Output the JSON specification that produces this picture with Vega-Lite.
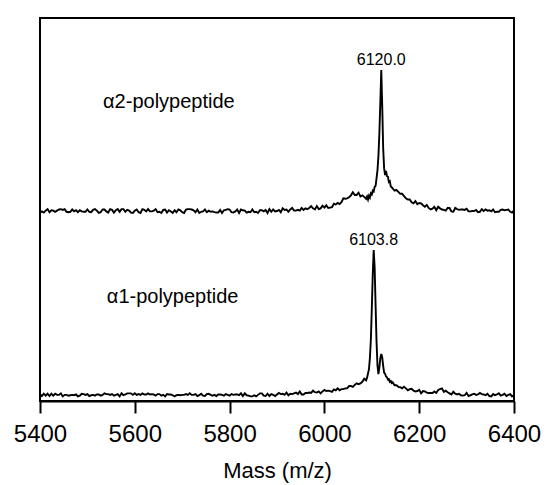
{
  "$schema": "https://vega.github.io/schema/vega-lite/v6.json",
  "width": 474,
  "height": 383,
  "autosize": "none",
  "padding": {"left": 40, "top": 18, "right": 32, "bottom": 84},
  "config": {
    "view": {"stroke": "black", "strokeWidth": 2},
    "font": "Liberation Sans"
  },
  "datasets": {
    "spec": [
      {"m":5400,"a2":49.2,"a1":1.8},{"m":5404,"a2":49.5,"a1":1.3},{"m":5408,"a2":49.2,"a1":1.9},{"m":5412,"a2":49.7,"a1":1.4},
      {"m":5416,"a2":50.1,"a1":1.9},{"m":5420,"a2":49.3,"a1":1.3},{"m":5424,"a2":49.8,"a1":1.9},{"m":5428,"a2":49.7,"a1":1.4},
      {"m":5432,"a2":49.4,"a1":1.9},{"m":5436,"a2":49.7,"a1":1.6},{"m":5440,"a2":50.0,"a1":1.6},{"m":5444,"a2":50.1,"a1":2.0},
      {"m":5448,"a2":49.9,"a1":1.2},{"m":5452,"a2":50.1,"a1":1.6},{"m":5456,"a2":49.4,"a1":1.6},{"m":5460,"a2":49.3,"a1":1.4},
      {"m":5464,"a2":49.4,"a1":1.5},{"m":5468,"a2":50.0,"a1":1.6},{"m":5472,"a2":49.5,"a1":1.5},{"m":5476,"a2":49.8,"a1":1.7},
      {"m":5480,"a2":49.3,"a1":1.2},{"m":5484,"a2":49.8,"a1":1.4},{"m":5488,"a2":49.5,"a1":1.9},{"m":5492,"a2":49.4,"a1":1.8},
      {"m":5496,"a2":49.4,"a1":1.6},{"m":5500,"a2":50.0,"a1":1.8},{"m":5504,"a2":49.4,"a1":1.3},{"m":5508,"a2":49.3,"a1":1.5},
      {"m":5512,"a2":49.9,"a1":1.6},{"m":5516,"a2":50.1,"a1":1.4},{"m":5520,"a2":49.7,"a1":1.7},{"m":5524,"a2":49.1,"a1":1.7},
      {"m":5528,"a2":49.3,"a1":1.4},{"m":5532,"a2":50.0,"a1":1.6},{"m":5536,"a2":50.0,"a1":2.0},{"m":5540,"a2":49.5,"a1":1.8},
      {"m":5544,"a2":49.2,"a1":1.8},{"m":5548,"a2":50.1,"a1":1.6},{"m":5552,"a2":49.9,"a1":1.8},{"m":5556,"a2":49.2,"a1":1.4},
      {"m":5560,"a2":49.8,"a1":1.6},{"m":5564,"a2":50.1,"a1":1.8},{"m":5568,"a2":49.4,"a1":1.2},{"m":5572,"a2":50.1,"a1":2.0},
      {"m":5576,"a2":50.1,"a1":1.5},{"m":5580,"a2":49.4,"a1":1.7},{"m":5584,"a2":49.9,"a1":2.0},{"m":5588,"a2":49.7,"a1":2.0},
      {"m":5592,"a2":49.2,"a1":2.0},{"m":5596,"a2":49.1,"a1":1.6},{"m":5600,"a2":49.7,"a1":2.0},{"m":5604,"a2":50.0,"a1":1.6},
      {"m":5608,"a2":49.3,"a1":1.8},{"m":5612,"a2":49.1,"a1":1.6},{"m":5616,"a2":50.1,"a1":2.0},{"m":5620,"a2":49.9,"a1":1.7},
      {"m":5624,"a2":49.5,"a1":1.7},{"m":5628,"a2":50.1,"a1":2.0},{"m":5632,"a2":49.5,"a1":1.7},{"m":5636,"a2":49.5,"a1":1.8},
      {"m":5640,"a2":49.7,"a1":1.7},{"m":5644,"a2":50.1,"a1":1.4},{"m":5648,"a2":49.3,"a1":1.8},{"m":5652,"a2":49.4,"a1":1.8},
      {"m":5656,"a2":49.1,"a1":1.4},{"m":5660,"a2":49.9,"a1":1.6},{"m":5664,"a2":50.0,"a1":1.2},{"m":5668,"a2":49.2,"a1":1.8},
      {"m":5672,"a2":49.8,"a1":1.7},{"m":5676,"a2":49.5,"a1":1.7},{"m":5680,"a2":49.1,"a1":1.5},{"m":5684,"a2":49.8,"a1":1.2},
      {"m":5688,"a2":49.3,"a1":1.5},{"m":5692,"a2":50.0,"a1":1.6},{"m":5696,"a2":49.8,"a1":1.5},{"m":5700,"a2":49.3,"a1":1.6},
      {"m":5704,"a2":49.1,"a1":1.6},{"m":5708,"a2":50.0,"a1":1.8},{"m":5712,"a2":50.1,"a1":1.6},{"m":5716,"a2":50.1,"a1":2.0},
      {"m":5720,"a2":50.0,"a1":1.6},{"m":5724,"a2":49.8,"a1":1.6},{"m":5728,"a2":49.3,"a1":1.8},{"m":5732,"a2":50.0,"a1":1.3},
      {"m":5736,"a2":49.1,"a1":1.5},{"m":5740,"a2":49.4,"a1":1.9},{"m":5744,"a2":49.5,"a1":1.4},{"m":5748,"a2":50.0,"a1":1.3},
      {"m":5752,"a2":49.3,"a1":1.8},{"m":5756,"a2":49.7,"a1":1.9},{"m":5760,"a2":49.4,"a1":1.6},{"m":5764,"a2":49.5,"a1":1.4},
      {"m":5768,"a2":49.3,"a1":1.6},{"m":5772,"a2":49.2,"a1":1.3},{"m":5776,"a2":49.2,"a1":1.7},{"m":5780,"a2":49.9,"a1":1.7},
      {"m":5784,"a2":49.1,"a1":1.6},{"m":5788,"a2":49.8,"a1":1.4},{"m":5792,"a2":49.9,"a1":1.8},{"m":5796,"a2":50.1,"a1":1.6},
      {"m":5800,"a2":50.0,"a1":1.4},{"m":5804,"a2":49.3,"a1":1.8},{"m":5808,"a2":49.2,"a1":1.6},{"m":5812,"a2":49.5,"a1":1.7},
      {"m":5816,"a2":50.0,"a1":1.7},{"m":5820,"a2":49.1,"a1":1.5},{"m":5824,"a2":50.0,"a1":2.0},{"m":5828,"a2":49.8,"a1":1.3},
      {"m":5832,"a2":49.7,"a1":2.0},{"m":5836,"a2":49.2,"a1":1.5},{"m":5840,"a2":49.4,"a1":1.4},{"m":5844,"a2":49.3,"a1":1.2},
      {"m":5848,"a2":50.0,"a1":1.2},{"m":5852,"a2":49.3,"a1":1.5},{"m":5856,"a2":49.4,"a1":1.2},{"m":5860,"a2":49.1,"a1":1.6},
      {"m":5864,"a2":49.8,"a1":2.0},{"m":5868,"a2":49.8,"a1":2.0},{"m":5872,"a2":49.5,"a1":1.4},{"m":5876,"a2":49.9,"a1":1.3},
      {"m":5880,"a2":49.1,"a1":1.9},{"m":5884,"a2":50.1,"a1":1.3},{"m":5888,"a2":49.4,"a1":1.8},{"m":5892,"a2":50.0,"a1":1.6},
      {"m":5896,"a2":49.5,"a1":1.3},
      {"m":5900,"a2":49.6,"a1":1.7},{"m":5904,"a2":49.9,"a1":2.1},{"m":5908,"a2":49.3,"a1":1.8},{"m":5912,"a2":50.3,"a1":1.9},
      {"m":5916,"a2":49.9,"a1":1.6},{"m":5920,"a2":50.0,"a1":2.2},{"m":5924,"a2":49.4,"a1":1.5},{"m":5928,"a2":50.0,"a1":1.9},
      {"m":5932,"a2":50.4,"a1":1.8},{"m":5936,"a2":49.7,"a1":2.0},{"m":5940,"a2":49.7,"a1":2.2},{"m":5944,"a2":49.9,"a1":1.8},
      {"m":5948,"a2":49.7,"a1":2.5},{"m":5952,"a2":50.4,"a1":1.7},{"m":5956,"a2":49.9,"a1":1.7},{"m":5960,"a2":50.3,"a1":2.1},
      {"m":5964,"a2":50.1,"a1":2.1},{"m":5968,"a2":50.4,"a1":2.2},{"m":5972,"a2":50.9,"a1":2.1},{"m":5976,"a2":50.3,"a1":2.7},
      {"m":5980,"a2":50.0,"a1":2.3},{"m":5984,"a2":50.9,"a1":2.2},{"m":5988,"a2":50.1,"a1":2.5},{"m":5992,"a2":50.3,"a1":2.0},
      {"m":5996,"a2":51.0,"a1":2.5},{"m":6000,"a2":50.5,"a1":2.9},{"m":6004,"a2":51.1,"a1":2.6},{"m":6008,"a2":50.4,"a1":2.7},
      {"m":6012,"a2":50.5,"a1":2.6},{"m":6016,"a2":50.6,"a1":2.4},{"m":6020,"a2":51.5,"a1":3.0},{"m":6024,"a2":51.3,"a1":2.8},
      {"m":6028,"a2":51.7,"a1":3.3},{"m":6032,"a2":51.4,"a1":2.8},{"m":6036,"a2":51.9,"a1":3.1},{"m":6040,"a2":52.9,"a1":3.1},
      {"m":6044,"a2":52.8,"a1":3.3},{"m":6048,"a2":52.9,"a1":3.3},{"m":6052,"a2":53.2,"a1":3.9},{"m":6056,"a2":53.7,"a1":3.9},
      {"m":6060,"a2":54.5,"a1":3.7},{"m":6064,"a2":53.8,"a1":4.2},{"m":6068,"a2":53.8,"a1":4.6},{"m":6072,"a2":54.4,"a1":4.4},
      {"m":6076,"a2":53.4,"a1":4.6},{"m":6080,"a2":53.7,"a1":5.0},{"m":6084,"a2":53.3,"a1":5.8},{"m":6088,"a2":52.8,"a1":5.4},
      {"m":6090,"a2":53.4,"a1":6.1},{"m":6092,"a2":52.6,"a1":7.2},{"m":6094,"a2":53.6,"a1":8.3},{"m":6096,"a2":53.1,"a1":11.2},
      {"m":6098,"a2":54.2,"a1":16.0},{"m":6100,"a2":53.9,"a1":24.0},{"m":6102,"a2":54.9,"a1":33.0},{"m":6104,"a2":54.7,"a1":39.4},
      {"m":6106,"a2":55.9,"a1":35.0},{"m":6108,"a2":56.2,"a1":25.0},{"m":6110,"a2":58.2,"a1":15.5},{"m":6112,"a2":60.3,"a1":9.2},
      {"m":6114,"a2":64.0,"a1":7.0},{"m":6116,"a2":70.0,"a1":8.8},{"m":6118,"a2":78.0,"a1":11.2},{"m":6120,"a2":86.4,"a1":12.3},
      {"m":6122,"a2":77.0,"a1":11.4},{"m":6124,"a2":66.0,"a1":9.2},{"m":6126,"a2":60.8,"a1":7.4},{"m":6128,"a2":59.0,"a1":7.1},
      {"m":6130,"a2":60.1,"a1":6.4},{"m":6132,"a2":58.7,"a1":6.2},{"m":6134,"a2":58.6,"a1":5.6},{"m":6136,"a2":57.2,"a1":5.7},
      {"m":6138,"a2":57.4,"a1":5.0},{"m":6140,"a2":56.0,"a1":5.2},
      {"m":6142,"a2":55.8,"a1":4.7},{"m":6144,"a2":55.5,"a1":4.9},{"m":6148,"a2":54.9,"a1":4.1},{"m":6152,"a2":55.1,"a1":4.1},
      {"m":6156,"a2":54.6,"a1":3.7},{"m":6160,"a2":54.1,"a1":3.6},{"m":6164,"a2":54.1,"a1":3.3},{"m":6168,"a2":53.5,"a1":3.7},
      {"m":6172,"a2":52.9,"a1":3.3},{"m":6176,"a2":52.6,"a1":2.8},{"m":6180,"a2":52.6,"a1":3.1},{"m":6184,"a2":51.9,"a1":3.2},
      {"m":6188,"a2":51.6,"a1":2.7},{"m":6192,"a2":52.2,"a1":2.5},{"m":6196,"a2":51.4,"a1":2.6},{"m":6200,"a2":51.7,"a1":2.9},
      {"m":6204,"a2":51.6,"a1":2.0},{"m":6208,"a2":51.1,"a1":2.6},{"m":6212,"a2":50.7,"a1":2.5},{"m":6216,"a2":51.2,"a1":2.2},
      {"m":6220,"a2":50.4,"a1":2.1},{"m":6224,"a2":50.0,"a1":2.1},{"m":6228,"a2":50.2,"a1":2.1},{"m":6232,"a2":50.7,"a1":2.5},
      {"m":6236,"a2":49.8,"a1":2.1},{"m":6240,"a2":50.7,"a1":2.9},{"m":6244,"a2":50.3,"a1":3.1},{"m":6248,"a2":50.0,"a1":3.3},
      {"m":6252,"a2":49.9,"a1":2.4},{"m":6256,"a2":49.7,"a1":2.7},{"m":6260,"a2":50.4,"a1":2.3},{"m":6264,"a2":50.4,"a1":2.0},
      {"m":6268,"a2":49.5,"a1":1.7},{"m":6272,"a2":49.4,"a1":2.4},{"m":6276,"a2":50.4,"a1":1.9},{"m":6280,"a2":50.1,"a1":1.7},
      {"m":6284,"a2":49.9,"a1":1.9},{"m":6288,"a2":50.0,"a1":1.5},{"m":6292,"a2":50.0,"a1":1.4},{"m":6296,"a2":49.9,"a1":1.5},
      {"m":6300,"a2":50.2,"a1":2.1},{"m":6304,"a2":49.5,"a1":1.3},{"m":6308,"a2":49.5,"a1":1.5},{"m":6312,"a2":49.6,"a1":1.7},
      {"m":6316,"a2":49.6,"a1":1.9},{"m":6320,"a2":49.9,"a1":1.6},{"m":6324,"a2":49.3,"a1":1.7},{"m":6328,"a2":49.4,"a1":2.1},
      {"m":6332,"a2":50.1,"a1":1.8},{"m":6336,"a2":49.6,"a1":1.7},{"m":6340,"a2":50.0,"a1":1.5},{"m":6344,"a2":49.7,"a1":1.9},
      {"m":6348,"a2":49.8,"a1":1.3},{"m":6352,"a2":49.5,"a1":1.2},{"m":6356,"a2":50.0,"a1":1.8},{"m":6360,"a2":49.3,"a1":1.5},
      {"m":6364,"a2":49.4,"a1":1.7},{"m":6368,"a2":49.4,"a1":2.0},{"m":6372,"a2":49.9,"a1":1.4},{"m":6376,"a2":50.0,"a1":1.6},
      {"m":6380,"a2":49.8,"a1":1.9},{"m":6384,"a2":49.9,"a1":1.3},{"m":6388,"a2":50.0,"a1":1.6},{"m":6392,"a2":49.4,"a1":1.8},
      {"m":6396,"a2":49.2,"a1":1.2},{"m":6400,"a2":49.8,"a1":1.5}
    ],
    "names": [
      {"m": 5533, "v": 78.1, "label": "α2-polypeptide"},
      {"m": 5541, "v": 27.2, "label": "α1-polypeptide"}
    ],
    "peaks": [
      {"m": 6120, "v": 89.0, "label": "6120.0"},
      {"m": 6103.8, "v": 42.0, "label": "6103.8"}
    ]
  },
  "layer": [
    {
      "data": {"name": "spec"},
      "transform": [{"fold": ["a2", "a1"], "as": ["series", "intensity"]}],
      "mark": {"type": "line", "color": "black", "strokeWidth": 1.9, "clip": true},
      "encoding": {
        "x": {
          "field": "m", "type": "quantitative",
          "scale": {"domain": [5400, 6400], "nice": false, "zero": false},
          "axis": {
            "title": "Mass (m/z)",
            "values": [5400, 5600, 5800, 6000, 6200, 6400],
            "format": "d",
            "grid": false,
            "domainColor": "black", "domainWidth": 2,
            "tickColor": "black", "tickWidth": 2, "tickSize": 12,
            "labelFontSize": 24, "labelColor": "black", "labelPadding": 9,
            "labelFlush": false, "labelOverlap": false,
            "titleFontSize": 22, "titleFontWeight": "normal", "titleColor": "black", "titlePadding": 14
          }
        },
        "y": {
          "field": "intensity", "type": "quantitative",
          "scale": {"domain": [0, 100], "nice": false},
          "axis": null
        },
        "detail": {"field": "series"}
      }
    },
    {
      "data": {"name": "names"},
      "mark": {"type": "text", "align": "left", "baseline": "middle", "fontSize": 20, "color": "black"},
      "encoding": {
        "x": {"field": "m", "type": "quantitative"},
        "y": {"field": "v", "type": "quantitative"},
        "text": {"field": "label"}
      }
    },
    {
      "data": {"name": "peaks"},
      "mark": {"type": "text", "align": "center", "baseline": "middle", "fontSize": 16, "color": "black"},
      "encoding": {
        "x": {"field": "m", "type": "quantitative"},
        "y": {"field": "v", "type": "quantitative"},
        "text": {"field": "label"}
      }
    }
  ]
}
